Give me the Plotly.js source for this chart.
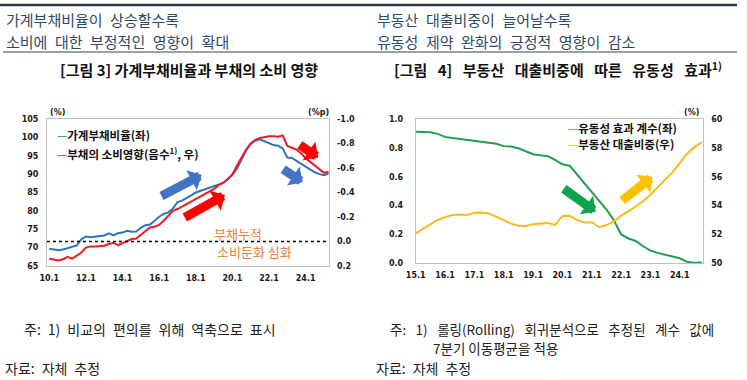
<!DOCTYPE html>
<html><head><meta charset="utf-8">
<script src="https://cdn.plot.ly/plotly-3.0.1.min.js"></script>
<style>html,body{margin:0;padding:0;background:#fff}#chart{width:747px;height:380px}</style>
</head><body><div id="chart"></div>
<script>
// ---------- Data: Figure 3 ----------
const quartersL = ["10.1","10.2","10.3","10.4","11.1","11.2","11.3","11.4","12.1","12.2","12.3","12.4",
  "13.1","13.2","13.3","13.4","14.1","14.2","14.3","14.4","15.1","15.2","15.3","15.4",
  "16.1","16.2","16.3","16.4","17.1","17.2","17.3","17.4","18.1","18.2","18.3","18.4",
  "19.1","19.2","19.3","19.4","20.1","20.2","20.3","20.4","21.1","21.2","21.3","21.4",
  "22.1","22.2","22.3","22.4","23.1","23.2","23.3","23.4","24.1","24.2","24.3","24.4","25.1","25.2"];
const debtRatio = [69.7,69.4,69.3,69.5,69.8,70.1,70.6,72.3,73.0,72.8,72.9,73.0,
  73.3,73.9,73.3,73.9,74.1,74.6,74.3,74.4,75.4,76.1,76.3,77.3,
  78.4,79.2,79.6,80.6,82.4,82.8,83.4,84.2,85.0,85.4,85.8,86.4,
  86.8,87.0,87.6,88.6,89.8,91.5,93.8,96.5,98.2,99.1,99.5,99.0,
  98.4,97.9,97.7,97.0,94.5,94.4,93.6,92.8,91.9,91.1,90.5,90.0,89.7,90.1];
const debtEffect = [0.14,0.15,0.155,0.145,0.125,0.14,0.115,0.09,0.05,0.04,0.04,0.04,
  0.035,0.02,0.01,0.03,0.015,0.0,-0.02,-0.025,-0.055,-0.09,-0.115,-0.12,
  -0.135,-0.17,-0.21,-0.25,-0.265,-0.285,-0.31,-0.33,-0.35,-0.37,-0.39,-0.41,
  -0.43,-0.46,-0.48,-0.51,-0.55,-0.62,-0.69,-0.75,-0.80,-0.83,-0.845,-0.855,
  -0.86,-0.86,-0.855,-0.865,-0.78,-0.765,-0.75,-0.72,-0.68,-0.65,-0.62,-0.59,-0.56,-0.57];
const ticksL = ["10.1","12.1","14.1","16.1","18.1","20.1","22.1","24.1"];
const yTicksL = [65,70,75,80,85,90,95,100,105];
const yTicksL2 = [-1.0,-0.8,-0.6,-0.4,-0.2,0.0,0.2];
const yTextL2 = ["-1.0","-0.8","-0.6","-0.4","-0.2","0.0","0.2"];

// ---------- Data: Figure 4 ----------
const quartersR = ["15.1","15.2","15.3","15.4","16.1","16.2","16.3","16.4","17.1","17.2","17.3","17.4",
  "18.1","18.2","18.3","18.4","19.1","19.2","19.3","19.4","20.1","20.2","20.3","20.4",
  "21.1","21.2","21.3","21.4","22.1","22.2","22.3","22.4","23.1","23.2","23.3","23.4",
  "24.1","24.2","24.3","24.4"];
const liqCoef = [0.912,0.908,0.908,0.897,0.876,0.868,0.862,0.853,0.845,0.840,0.836,0.828,
  0.812,0.810,0.797,0.776,0.756,0.748,0.742,0.716,0.686,0.676,0.615,0.555,
  0.500,0.440,0.372,0.300,0.200,0.172,0.155,0.118,0.088,0.072,0.060,0.052,
  0.035,0.010,0.003,0.006];
const reLoanShare = [52.08,52.4,52.7,53.0,53.2,53.35,53.38,53.35,53.5,53.52,53.45,53.2,
  52.95,52.75,52.6,52.58,52.7,52.75,52.8,52.65,53.28,53.3,53.0,52.82,
  52.85,52.5,52.65,52.88,53.3,53.6,53.95,54.3,54.75,55.3,55.8,56.3,
  56.95,57.6,58.05,58.4];
const ticksR = ["15.1","16.1","17.1","18.1","19.1","20.1","21.1","22.1","23.1","24.1"];
const yTicksR = [0.0,0.2,0.4,0.6,0.8,1.0];
const yTicksR2 = [50,52,54,56,58,60];

// ---------- Layout helpers ----------
const W = 747, H = 380;
const px = v => v / W;
const py = v => 1 - v / H;

const BLUE = '#2E75B6', RED = '#EE1C25', GREEN = '#1FA050', GOLD = '#FBBA1B';
const tickFont = {family: 'DejaVu Sans', size: 8, color: '#1a1a1a', weight: 'bold'};
const KR = '"Noto Sans CJK KR", "Noto Sans", sans-serif';
const frame = '#BFBFBF';
const SP = '\u2002\u2009';   // wide (justified-looking) space
const EN = '\u2002';

const traces = [
  {x: quartersL, y: debtRatio, xaxis: 'x', yaxis: 'y', type: 'scatter', mode: 'lines',
   name: '가계부채비율(좌)', line: {color: BLUE, width: 2}},
  {x: quartersL, y: debtEffect, xaxis: 'x', yaxis: 'y2', type: 'scatter', mode: 'lines',
   name: '부채의 소비영향(음수, 우)', line: {color: RED, width: 2}},
  {x: quartersR, y: reLoanShare, xaxis: 'x2', yaxis: 'y4', type: 'scatter', mode: 'lines',
   name: '부동산 대출비중(우)', line: {color: GOLD, width: 2}},
  {x: quartersR, y: liqCoef, xaxis: 'x2', yaxis: 'y3', type: 'scatter', mode: 'lines',
   name: '유동성 효과 계수(좌)', line: {color: GREEN, width: 2}}
];

function txt(text, x, y, opts) {
  return Object.assign({text: text, x: px(x), y: py(y), xref: 'paper', yref: 'paper',
    showarrow: false, xanchor: 'left', yanchor: 'middle', align: 'left',
    font: {family: KR, size: 13.5, color: '#222'}}, opts || {});
}
function arrow(hx, hy, tx, ty, color) {
  return {text: '', x: px(hx), y: py(hy), xref: 'paper', yref: 'paper', showarrow: true,
    ax: tx - hx, ay: ty - hy, axref: 'pixel', ayref: 'pixel',
    arrowhead: 1, arrowsize: 0.42, arrowwidth: 9, arrowcolor: color};
}

const headColor = '#2E4A66';
const headFont = {family: KR, size: 15, color: headColor};
const annotations = [
  txt('가계부채비율이' + EN + '상승할수록', 4, 20, {font: headFont}),
  txt('소비에' + EN + '대한' + EN + '부정적인' + EN + '영향이' + EN + '확대', 4, 41, {font: headFont}),
  txt('부동산' + EN + '대출비중이' + EN + '늘어날수록', 375, 20, {font: headFont}),
  txt('유동성' + EN + '제약' + EN + '완화의' + EN + '긍정적' + EN + '영향이' + EN + '감소', 375, 41, {font: headFont}),
  txt('<b>[그림 3] 가계부채비율과 부채의 소비 영향</b>', 189, 69, {xanchor: 'center', font: {family: KR, size: 15, color: '#111'}}),
  txt('<b>[그림' + SP + '4]' + SP + '부동산' + SP + '대출비중에' + SP + '따른' + SP + '유동성' + SP + '효과<sup>1)</sup></b>', 558, 69, {xanchor: 'center', font: {family: KR, size: 15, color: '#111'}}),
  // units
  txt('<b>(%)</b>', 57, 112, {xanchor: 'center', font: {family: 'DejaVu Sans', size: 8, color: '#1a1a1a'}}),
  txt('<b>(%p)</b>', 318, 112, {xanchor: 'center', font: {family: 'DejaVu Sans', size: 8, color: '#1a1a1a'}}),
  txt('<b>(%)</b>', 691, 112, {xanchor: 'center', font: {family: 'DejaVu Sans', size: 8, color: '#1a1a1a'}}),
  // legends (figure 3)
  txt('<span style="color:' + BLUE + '">—</span><b>가계부채비율(좌)</b>', 55, 135, {font: {family: KR, size: 11.5, color: '#111'}}),
  txt('<span style="color:' + RED + '">—</span><b>부채의 소비영향(음수<sup>1)</sup>, 우)</b>', 55, 153, {font: {family: KR, size: 11.5, color: '#111'}}),
  // legends (figure 4)
  txt('<span style="color:' + GREEN + '">—</span><b>유동성 효과 계수(좌)</b>', 566, 128, {font: {family: KR, size: 11.5, color: '#111'}}),
  txt('<span style="color:' + GOLD + '">—</span><b>부동산 대출비중(우)</b>', 566, 144, {font: {family: KR, size: 11.5, color: '#111'}}),
  // orange notes
  txt('부채누적', 238, 233, {xanchor: 'center', font: {family: KR, size: 13, color: '#ED7D31'}}),
  txt('소비둔화 심화', 254, 251, {xanchor: 'center', font: {family: KR, size: 13, color: '#ED7D31'}}),
  // arrows
  arrow(201.7, 175, 160, 196.7, '#4472C4'),
  arrow(225, 195, 183.3, 218.3, '#FF0000'),
  arrow(302.7, 182.3, 281.7, 168.3, '#4472C4'),
  arrow(318.3, 157.5, 298.3, 144, '#FF0000'),
  arrow(595.7, 211.7, 562.3, 187.7, '#0FA34B'),
  arrow(652.3, 176.7, 620.7, 201.7, '#FFC000'),
  // footnotes
  txt('주:' + EN + '1)' + EN + '비교의' + EN + '편의를' + EN + '위해' + EN + '역축으로' + EN + '표시', 22, 328.5, {font: {family: KR, size: 14, color: '#222'}}),
  txt('자료:' + EN + '자체' + EN + '추정', 3, 367.5, {font: {family: KR, size: 14, color: '#222'}}),
  txt('주:' + SP + '1)' + SP + '롤링(Rolling)' + SP + '회귀분석으로' + SP + '추정된' + SP + '계수' + SP + '값에', 388, 328.5),
  txt('7분기 이동평균을 적용', 431, 348),
  txt('자료:' + EN + '자체' + EN + '추정', 374, 367.5, {font: {family: KR, size: 14, color: '#222'}})
];

const shapes = [
  {type: 'line', xref: 'paper', yref: 'paper', x0: 0, x1: px(737), y0: py(5), y1: py(5), line: {color: '#2B3A4A', width: 2.5}},
  {type: 'line', xref: 'paper', yref: 'paper', x0: px(3), x1: px(737), y0: py(52), y1: py(52), line: {color: '#3A4550', width: 1.2}},
  {type: 'line', xref: 'x domain', yref: 'y2', x0: 0, x1: 1, y0: 0, y1: 0, line: {color: '#000', width: 1.5, dash: 'dot'}}
];

const layout = {
  width: W, height: H, margin: {l: 0, r: 0, t: 0, b: 0},
  paper_bgcolor: '#fff', plot_bgcolor: '#fff', showlegend: false,
  font: {family: KR},
  xaxis: {domain: [px(47), px(329)], anchor: 'y', type: 'category', range: [-0.5, 61.1],
    tickvals: ticksL, ticktext: ticksL, ticks: '', showgrid: false, zeroline: false,
    showline: true, mirror: true, linecolor: frame, linewidth: 1, tickfont: tickFont, ticklabelstandoff: 4},
  yaxis: {domain: [py(266), py(119)], anchor: 'x', range: [65, 105], tickvals: yTicksL,
    ticks: '', showgrid: false, zeroline: false, showline: true, mirror: true, linecolor: frame,
    linewidth: 1, tickfont: tickFont, ticklabelstandoff: 6},
  yaxis2: {overlaying: 'y', anchor: 'x', side: 'right', range: [0.2, -1.0], tickvals: yTicksL2,
    ticktext: yTextL2, ticks: '', showgrid: false, zeroline: false, showline: false,
    tickfont: tickFont, ticklabelstandoff: 7},
  xaxis2: {domain: [px(415.7), px(703.3)], anchor: 'y3', type: 'category', range: [0, 39.2],
    tickvals: ticksR, ticktext: ticksR, ticks: '', showgrid: false, zeroline: false,
    showline: true, mirror: true, linecolor: frame, linewidth: 1, tickfont: tickFont, ticklabelstandoff: 4},
  yaxis3: {domain: [py(263.3), py(119)], anchor: 'x2', range: [0, 1], tickvals: yTicksR,
    tickformat: '.1f', ticks: '', showgrid: false, zeroline: false, showline: true, mirror: true,
    linecolor: frame, linewidth: 1, tickfont: tickFont, ticklabelstandoff: 10},
  yaxis4: {overlaying: 'y3', anchor: 'x2', side: 'right', range: [50, 60], tickvals: yTicksR2,
    ticks: '', showgrid: false, zeroline: false, showline: false, tickfont: tickFont, ticklabelstandoff: 7},
  annotations: annotations,
  shapes: shapes
};

Plotly.newPlot('chart', traces, layout, {staticPlot: true, displayModeBar: false});
</script>
</body></html>
